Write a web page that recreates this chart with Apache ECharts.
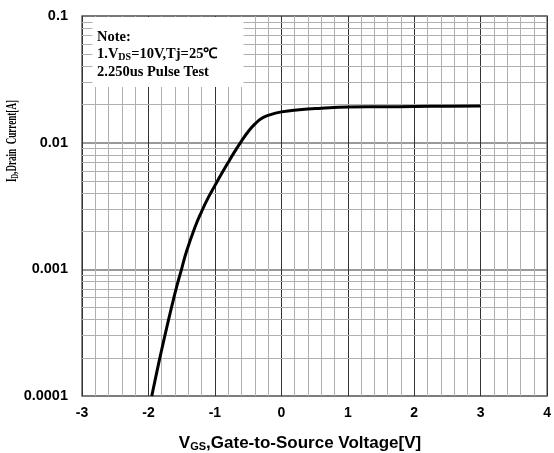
<!DOCTYPE html>
<html>
<head>
<meta charset="utf-8">
<script src="https://cdn.jsdelivr.net/npm/echarts@6/dist/echarts.min.js"></script>
<style>html,body{margin:0;padding:0;background:#fff;}#c{width:554px;height:453px;}</style>
</head>
<body>
<div id="c"></div>
<script>
// Data
const vgs = [-1.95, -1.88, -1.8, -1.725, -1.65, -1.575, -1.5, -1.425, -1.3, -1.2, -1.1, -1.0, -0.9, -0.8, -0.7, -0.6, -0.5, -0.4, -0.3, -0.2, 0.0, 0.27, 0.6, 1.0, 1.5, 2.0, 2.5, 3.0];
const idA = [0.0001, 0.0001496, 0.0002328, 0.0003467, 0.000507, 0.00073, 0.00101, 0.001396, 0.002148, 0.00286, 0.00368, 0.00458, 0.005675, 0.00698, 0.00853, 0.0103, 0.0122, 0.0140, 0.0155, 0.01641, 0.0175, 0.0182, 0.0187, 0.0191, 0.0192, 0.0193, 0.0194, 0.0195];
const xTicks = [-3, -2, -1, 0, 1, 2, 3, 4];
const yTicks = [0.0001, 0.001, 0.01, 0.1];
const yMinorLines = [];
[0.0001, 0.001, 0.01].forEach(function (d) { for (let k = 2; k <= 9; k++) yMinorLines.push(+(d * k).toPrecision(3)); });
const noteLines = ['Note:', '1.V{s|DS}=10V,Tj=25℃', '2.250us Pulse Test'];

const chart = echarts.init(document.getElementById('c'), null, { renderer: 'canvas' });
const option = {
  animation: false,
  backgroundColor: '#fff',
  grid: { left: 82, right: 4, top: 16, bottom: 57, show: true, borderColor: '#666', borderWidth: 1.5, backgroundColor: 'transparent' },
  xAxis: {
    type: 'value', min: -3, max: 4, interval: 1,
    axisLine: { show: false }, axisTick: { show: false },
    axisLabel: { color: '#000', fontFamily: 'Liberation Sans', fontWeight: 'bold', fontSize: 14, margin: 10,
      formatter: function (v) { return xTicks.indexOf(v) >= 0 ? String(v) : ''; } },
    splitLine: { show: true, lineStyle: { color: '#333', width: 1 } },
    minorTick: { show: false, splitNumber: 5 },
    minorSplitLine: { show: true, lineStyle: { color: '#b0b0b0', width: 1 } }
  },
  yAxis: {
    type: 'log', logBase: 10, min: 0.0001, max: 0.1,
    axisLine: { show: false }, axisTick: { show: false },
    axisLabel: { color: '#000', fontFamily: 'Liberation Sans', fontWeight: 'bold', fontSize: 14.5, margin: 14,
      formatter: function (v) { const t = yTicks.find(function (y) { return Math.abs(y - v) / y < 1e-6; }); return t !== undefined ? String(t) : ''; } },
    splitLine: { show: true, lineStyle: { color: '#777', width: 1.5 } }
  },
  graphic: [
    { type: 'rect', z: 50, shape: { x: 92.5, y: 17, width: 151, height: 70 }, style: { fill: '#fff' } },
    { type: 'text', z: 51, left: 97, top: 28, style: {
        text: noteLines.join('\n'), fill: '#000', lineHeight: 17.5,
        font: 'bold 14.5px "Liberation Serif"',
        rich: { s: { fontSize: 10, fontWeight: 'bold', fontFamily: 'Liberation Serif', padding: [7, 0, 0, 0], lineHeight: 17.5 } }
      } },
    { type: 'text', z: 51, x: 12, y: 141, rotation: Math.PI / 2, scaleX: 0.7, scaleY: 1.1, style: {
        text: 'I{s|D},Drain  Current[A]', fill: '#000', align: 'center', verticalAlign: 'middle',
        font: 'bold 13px "Liberation Serif"',
        rich: { s: { fontSize: 9, fontWeight: 'bold', fontFamily: 'Liberation Serif', padding: [6, 0, 0, 0] } }
      } },
    { type: 'text', z: 51, x: 300, y: 443, style: {
        text: 'V{s|GS},Gate-to-Source Voltage[V]', fill: '#000', align: 'center', verticalAlign: 'middle',
        font: 'bold 17px "Liberation Sans"',
        rich: { s: { fontSize: 11, fontWeight: 'bold', fontFamily: 'Liberation Sans', padding: [7, 0, 0, 0] } }
      } }
  ],
  series: [
    {
      type: 'line', z: 1, silent: true, showSymbol: false,
      data: [[-3, 0.001]], lineStyle: { opacity: 0 },
      markLine: { z: 1, silent: true, symbol: 'none', precision: 8, label: { show: false }, animation: false,
        lineStyle: { color: '#b0b0b0', width: 1, type: 'solid' },
        emphasis: { disabled: true },
        data: yMinorLines.map(function (v) { return { yAxis: v }; }) }
    },
    {
      type: 'line', z: 100, smooth: 0.5, showSymbol: false,
      data: vgs.map(function (x, i) { return [x, idA[i]]; }),
      lineStyle: { color: '#000', width: 3 }
    }
  ]
};
chart.setOption(option);
</script>
</body>
</html>
